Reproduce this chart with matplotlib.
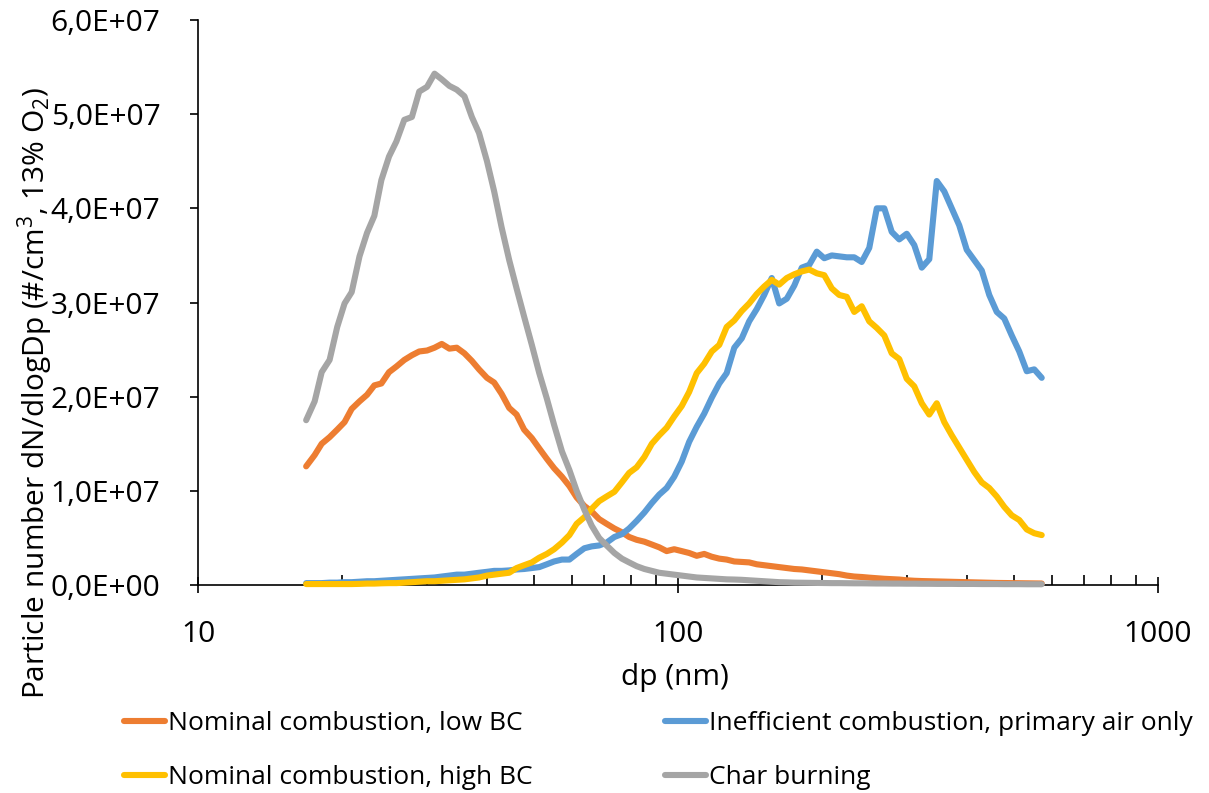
import matplotlib
matplotlib.use("Agg")
import matplotlib.pyplot as plt
from matplotlib.ticker import FuncFormatter, LogLocator, NullFormatter, FixedLocator

plt.rcParams['font.family'] = ['Open Sans', 'DejaVu Sans']
plt.rcParams['mathtext.default'] = 'regular'

# Particle diameter channel midpoints (nm)
dp = [16.8, 17.5, 18.1, 18.8, 19.5, 20.2, 20.9, 21.7, 22.5, 23.3,
      24.1, 25.0, 25.9, 26.9, 27.9, 28.9, 30.0, 31.1, 32.2, 33.4,
      34.6, 35.9, 37.2, 38.5, 40.0, 41.4, 42.9, 44.5, 46.1, 47.8,
      49.6, 51.4, 53.3, 55.2, 57.3, 59.4, 61.5, 63.8, 66.1, 68.5,
      71.0, 73.7, 76.4, 79.1, 82.0, 85.1, 88.2, 91.4, 94.7, 98.2,
      101.8, 105.5, 109.4, 113.4, 117.6, 121.9, 126.3, 131.0, 135.8, 140.7,
      145.9, 151.2, 156.8, 162.5, 168.5, 174.7, 181.1, 187.7, 194.6, 201.7,
      209.1, 216.7, 224.7, 232.9, 241.4, 250.3, 259.5, 269.0, 278.8, 289.0,
      299.6, 310.6, 322.0, 333.8, 346.0, 358.7, 371.8, 385.4, 399.5, 414.2,
      429.4, 445.1, 461.4, 478.3, 495.8, 514.0, 532.8, 552.3, 572.5]

SCALE = 1e7  # values below are in units of 1E+07 #/cm3

nominal_low_bc = [
    1.26, 1.38, 1.50, 1.57, 1.65, 1.73, 1.87, 1.95, 2.02, 2.12,
    2.14, 2.26, 2.32, 2.39, 2.44, 2.48, 2.49, 2.52, 2.56, 2.51,
    2.52, 2.46, 2.38, 2.29, 2.20, 2.15, 2.03, 1.88, 1.81, 1.65,
    1.56, 1.45, 1.34, 1.24, 1.15, 1.05, 0.93, 0.84, 0.78, 0.70,
    0.65, 0.60, 0.56, 0.51, 0.48, 0.46, 0.43, 0.40, 0.36, 0.38,
    0.36, 0.34, 0.31, 0.33, 0.30, 0.28, 0.27, 0.25, 0.245, 0.24,
    0.22, 0.21, 0.20, 0.19, 0.18, 0.17, 0.165, 0.155, 0.145, 0.135,
    0.125, 0.115, 0.10, 0.09, 0.085, 0.078, 0.072, 0.066, 0.062, 0.058,
    0.05, 0.045, 0.042, 0.04, 0.038, 0.036, 0.034, 0.032, 0.03, 0.028,
    0.026, 0.024, 0.022, 0.021, 0.02, 0.019, 0.018, 0.017, 0.016]

inefficient = [
    0.02, 0.02, 0.02, 0.025, 0.025, 0.03, 0.03, 0.035, 0.04, 0.04,
    0.045, 0.05, 0.055, 0.06, 0.065, 0.07, 0.075, 0.08, 0.09, 0.10,
    0.11, 0.11, 0.12, 0.13, 0.14, 0.15, 0.15, 0.155, 0.165, 0.17,
    0.18, 0.19, 0.22, 0.25, 0.27, 0.27, 0.33, 0.39, 0.41, 0.42,
    0.45, 0.51, 0.54, 0.60, 0.68, 0.77, 0.87, 0.96, 1.03, 1.15,
    1.31, 1.52, 1.68, 1.82, 1.99, 2.14, 2.25, 2.52, 2.62, 2.80,
    2.93, 3.08, 3.26, 2.99, 3.04, 3.18, 3.37, 3.40, 3.54, 3.47,
    3.50, 3.49, 3.48, 3.48, 3.43, 3.58, 4.00, 4.00, 3.75, 3.67,
    3.73, 3.61, 3.37, 3.46, 4.29, 4.18, 4.00, 3.82, 3.56, 3.45,
    3.34, 3.08, 2.90, 2.83, 2.65, 2.48, 2.27, 2.29, 2.20]

nominal_high_bc = [
    0.01, 0.01, 0.01, 0.01, 0.01, 0.01, 0.01, 0.012, 0.015, 0.015,
    0.018, 0.02, 0.02, 0.025, 0.03, 0.035, 0.04, 0.04, 0.045, 0.05,
    0.055, 0.06, 0.07, 0.08, 0.10, 0.11, 0.12, 0.13, 0.18, 0.21,
    0.24, 0.29, 0.33, 0.38, 0.45, 0.53, 0.65, 0.72, 0.81, 0.89,
    0.94, 0.99, 1.09, 1.19, 1.25, 1.36, 1.50, 1.59, 1.67, 1.79,
    1.90, 2.05, 2.25, 2.35, 2.48, 2.55, 2.74, 2.81, 2.91, 2.99,
    3.09, 3.17, 3.24, 3.19, 3.26, 3.30, 3.33, 3.35, 3.31, 3.29,
    3.15, 3.08, 3.06, 2.90, 2.96, 2.80, 2.73, 2.65, 2.46, 2.40,
    2.19, 2.11, 1.93, 1.81, 1.93, 1.73, 1.59, 1.46, 1.33, 1.20,
    1.09, 1.03, 0.94, 0.83, 0.74, 0.69, 0.59, 0.55, 0.53]

char_burning = [
    1.75, 1.95, 2.26, 2.39, 2.74, 2.99, 3.11, 3.49, 3.74, 3.92,
    4.30, 4.55, 4.71, 4.94, 4.97, 5.24, 5.29, 5.43, 5.37, 5.30,
    5.26, 5.19, 4.97, 4.80, 4.50, 4.18, 3.80, 3.45, 3.15, 2.85,
    2.55, 2.25, 1.98, 1.70, 1.42, 1.22, 1.00, 0.80, 0.63, 0.50,
    0.42, 0.34, 0.28, 0.24, 0.20, 0.17, 0.15, 0.13, 0.12, 0.11,
    0.10, 0.09, 0.08, 0.075, 0.07, 0.065, 0.06, 0.058, 0.055, 0.05,
    0.045, 0.04, 0.035, 0.03, 0.028, 0.025, 0.024, 0.023, 0.022, 0.021,
    0.020, 0.020, 0.019, 0.018, 0.018, 0.017, 0.016, 0.016, 0.015, 0.015,
    0.014, 0.014, 0.013, 0.013, 0.012, 0.012, 0.012, 0.011, 0.011, 0.011,
    0.010, 0.010, 0.010, 0.009, 0.009, 0.009, 0.008, 0.008, 0.008]

series_labels = ["Nominal combustion, low BC",
                 "Inefficient combustion, primary air only",
                 "Nominal combustion, high BC",
                 "Char burning"]
series_colors = ["#ED7D31", "#5B9BD5", "#FFC000", "#A5A5A5"]
series_data = [nominal_low_bc, inefficient, nominal_high_bc, char_burning]

y_ticks = [0, 1e7, 2e7, 3e7, 4e7, 5e7, 6e7]
x_ticks = [10, 100, 1000]

W, H = 1209, 793
fig = plt.figure(figsize=(W / 100, H / 100), dpi=100)
ax = fig.add_axes([198 / W, 1 - 585 / H, (1158 - 198) / W, (585 - 20) / H])

lines = []
for lab, col, vals in zip(series_labels, series_colors, series_data):
    ln, = ax.plot(dp, [v * SCALE for v in vals], color=col, lw=4.4, label=lab,
                  solid_joinstyle='round', solid_capstyle='round',
                  clip_on=False, zorder=3)
    lines.append(ln)

ax.set_xscale('log')
ax.set_xlim(10, 1000)
ax.set_ylim(0, 6e7)

ax.xaxis.set_major_locator(FixedLocator(x_ticks))
ax.xaxis.set_major_formatter(FuncFormatter(lambda v, p: f"{v:g}"))
ax.xaxis.set_minor_locator(LogLocator(base=10, subs=range(2, 10)))
ax.xaxis.set_minor_formatter(NullFormatter())

ax.yaxis.set_major_locator(FixedLocator(y_ticks))
ax.yaxis.set_major_formatter(FuncFormatter(lambda v, p: f"{v:.1E}".replace('.', ',')))

for s in ['top', 'right']:
    ax.spines[s].set_visible(False)
for s in ['left', 'bottom']:
    ax.spines[s].set_linewidth(1.2)
    ax.spines[s].set_color('black')

ax.tick_params(axis='y', which='major', direction='out', length=6, width=1.2,
               labelsize=21.5, pad=21)
ax.tick_params(axis='x', which='major', direction='inout', length=12, width=1.2,
               labelsize=21.5, pad=19)
ax.tick_params(axis='x', which='minor', direction='in', length=7, width=1.2)

fig.text(675 / W, 1 - 677 / H, "dp (nm)", ha='center', va='center', fontsize=21.5)
fig.text(35 / W, 1 - 393 / H,
         "Particle number dN/dlogDp (#/cm$^{3}$, 13% O$_{2}$)",
         ha='center', va='center', rotation=90, fontsize=21.5)

order = [0, 2, 1, 3]
leg = fig.legend([lines[i] for i in order], [series_labels[i] for i in order],
                 loc='upper left', bbox_to_anchor=(124 / W, 1 - 711 / H),
                 ncol=2, frameon=False, fontsize=19, handlelength=1.55,
                 handletextpad=0.12, columnspacing=5.0, labelspacing=1.1,
                 borderpad=0, borderaxespad=0)

fig.savefig("out.png", dpi=100)
